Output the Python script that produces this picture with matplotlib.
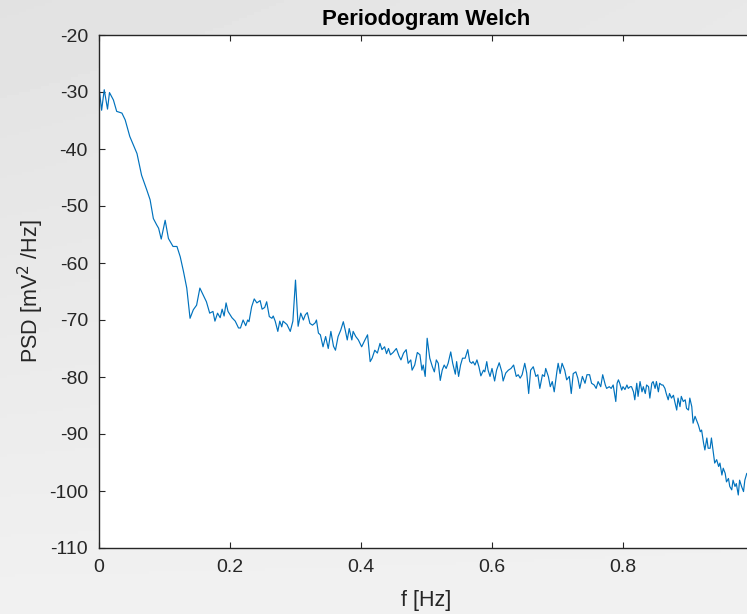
import numpy as np
import matplotlib
matplotlib.use('Agg')
import matplotlib.pyplot as plt

# Welch periodogram, values
freq = [0.000, 0.004, 0.008, 0.013, 0.016, 0.022, 0.027, 0.035, 0.040, 0.047,
        0.058, 0.065, 0.073, 0.078, 0.083, 0.088, 0.091, 0.095, 0.101, 0.106,
        0.113, 0.119, 0.124, 0.129, 0.134, 0.139, 0.144, 0.149, 0.154, 0.159,
        0.164, 0.169, 0.174, 0.177, 0.181, 0.185, 0.188, 0.191, 0.194, 0.197,
        0.203, 0.208, 0.213, 0.216, 0.220, 0.224, 0.227, 0.229, 0.233, 0.237,
        0.241, 0.246, 0.249, 0.253, 0.256, 0.260, 0.264, 0.266, 0.269, 0.273,
        0.276, 0.279, 0.281, 0.287, 0.292, 0.296, 0.300, 0.304, 0.308, 0.312,
        0.315, 0.318, 0.322, 0.326, 0.330, 0.332, 0.335, 0.338, 0.342, 0.346,
        0.350, 0.354, 0.358, 0.361, 0.365, 0.369, 0.373, 0.376, 0.379, 0.382,
        0.386, 0.388, 0.392, 0.396, 0.401, 0.406, 0.410, 0.414, 0.417, 0.421,
        0.425, 0.429, 0.432, 0.436, 0.439, 0.442, 0.445, 0.449, 0.454, 0.458,
        0.461, 0.465, 0.469, 0.472, 0.476, 0.478, 0.482, 0.486, 0.490, 0.493,
        0.495, 0.498, 0.501, 0.505, 0.509, 0.512, 0.515, 0.518, 0.521, 0.524,
        0.527, 0.530, 0.533, 0.537, 0.540, 0.544, 0.546, 0.549, 0.552, 0.555,
        0.559, 0.563, 0.566, 0.569, 0.571, 0.574, 0.577, 0.580, 0.583, 0.587,
        0.589, 0.592, 0.594, 0.597, 0.600, 0.604, 0.607, 0.611, 0.615, 0.617,
        0.621, 0.625, 0.629, 0.633, 0.637, 0.640, 0.643, 0.646, 0.650, 0.653,
        0.656, 0.659, 0.663, 0.667, 0.670, 0.673, 0.677, 0.680, 0.682, 0.686,
        0.689, 0.692, 0.695, 0.699, 0.701, 0.704, 0.707, 0.711, 0.714, 0.718,
        0.721, 0.724, 0.728, 0.731, 0.734, 0.738, 0.742, 0.745, 0.749, 0.752,
        0.756, 0.759, 0.762, 0.766, 0.769, 0.773, 0.775, 0.779, 0.782, 0.785,
        0.789, 0.791, 0.793, 0.795, 0.798, 0.800, 0.803, 0.806, 0.808, 0.811,
        0.813, 0.816, 0.818, 0.821, 0.823, 0.826, 0.829, 0.831, 0.834, 0.836,
        0.839, 0.841, 0.844, 0.846, 0.849, 0.851, 0.854, 0.856, 0.859, 0.861,
        0.864, 0.866, 0.869, 0.871, 0.874, 0.877, 0.879, 0.882, 0.884, 0.887,
        0.889, 0.892, 0.895, 0.897, 0.900, 0.902, 0.905, 0.907, 0.910, 0.913,
        0.915, 0.918, 0.920, 0.923, 0.925, 0.928, 0.930, 0.933, 0.935, 0.938,
        0.940, 0.943, 0.946, 0.948, 0.951, 0.953, 0.956, 0.958, 0.961, 0.963,
        0.966, 0.968, 0.971, 0.973, 0.976, 0.978, 0.981, 0.984, 0.986, 0.989,
        0.994]

psd = [-29.1, -33.2, -29.6, -33.0, -30.1, -31.4, -33.4, -33.7, -34.9, -37.8,
       -40.8, -44.6, -47.2, -48.9, -52.2, -53.3, -53.9, -55.8, -52.5, -55.7,
       -57.1, -57.1, -58.9, -61.5, -64.4, -69.7, -68.2, -67.4, -64.4, -65.6,
       -66.8, -68.8, -68.5, -70.2, -68.8, -69.6, -68.1, -69.3, -67.0, -68.5,
       -69.6, -70.2, -71.4, -71.4, -70.0, -71.0, -70.0, -70.3, -67.7, -66.3,
       -67.0, -66.6, -68.1, -67.8, -66.8, -69.4, -69.7, -69.3, -70.2, -72.0,
       -70.2, -71.2, -70.2, -70.8, -72.0, -70.2, -63.0, -71.1, -68.8, -70.0,
       -69.1, -68.7, -70.6, -70.9, -70.5, -70.0, -72.3, -72.6, -74.7, -72.9,
       -75.0, -72.0, -74.6, -75.3, -72.9, -71.8, -70.3, -71.8, -73.5, -71.5,
       -73.5, -72.0, -72.9, -73.5, -74.7, -73.5, -72.6, -77.3, -76.7, -75.3,
       -75.8, -74.1, -75.2, -74.7, -75.9, -75.0, -76.1, -75.7, -75.0, -76.3,
       -77.0, -75.8, -75.2, -77.6, -77.0, -78.8, -77.9, -75.7, -76.1, -78.8,
       -77.9, -79.9, -73.2, -76.7, -78.2, -79.1, -77.0, -77.6, -80.6, -78.8,
       -77.9, -78.5, -77.6, -75.6, -77.6, -79.5, -77.3, -79.9, -77.9, -76.7,
       -76.7, -75.2, -77.3, -77.6, -77.3, -77.9, -77.0, -78.2, -79.8, -78.8,
       -79.1, -77.3, -78.8, -79.9, -78.5, -80.7, -78.8, -77.5, -79.1, -80.7,
       -79.3, -78.8, -78.5, -77.9, -79.9, -79.6, -80.2, -79.6, -77.6, -79.3,
       -82.9, -78.8, -78.2, -79.9, -79.6, -82.0, -79.6, -79.9, -78.5, -79.9,
       -81.7, -80.8, -82.6, -79.1, -77.6, -79.4, -77.6, -78.8, -80.5, -79.9,
       -82.9, -79.4, -79.1, -80.2, -82.0, -79.9, -81.1, -79.6, -79.6, -81.1,
       -81.4, -82.0, -80.8, -81.7, -79.6, -81.4, -82.0, -81.7, -82.0, -81.4,
       -84.3, -81.1, -80.5, -81.1, -82.3, -81.7, -82.2, -81.4, -82.0, -81.7,
       -81.7, -82.6, -84.0, -81.1, -83.4, -80.8, -82.6, -81.7, -82.9, -81.4,
       -81.7, -83.7, -81.1, -80.8, -82.0, -80.8, -82.6, -81.1, -81.4, -81.4,
       -82.0, -82.9, -84.0, -82.9, -83.7, -83.2, -84.3, -85.8, -83.7, -85.2,
       -83.4, -84.3, -84.0, -85.5, -85.8, -83.7, -85.2, -88.1, -86.9, -87.8,
       -88.4, -89.6, -89.3, -91.6, -92.8, -90.7, -92.5, -92.5, -90.7, -93.4,
       -95.1, -94.5, -95.7, -95.1, -97.2, -96.0, -96.9, -98.4, -97.8, -99.2,
       -99.8, -98.1, -99.2, -98.7, -100.7, -98.1, -99.2, -100.1, -98.1, -96.9,
       -98.0]

x_ticks = [0, 0.2, 0.4, 0.6, 0.8]
x_tick_labels = ['0', '0.2', '0.4', '0.6', '0.8']
y_ticks = [-110, -100, -90, -80, -70, -60, -50, -40, -30, -20]

plt.rcParams['font.family'] = ['Liberation Sans', 'DejaVu Sans']
plt.rcParams['axes.unicode_minus'] = False

fig = plt.figure(figsize=(7.47, 6.14), dpi=100)

# light grey gradient behind everything (matlab style window)
bg = fig.add_axes([0, 0, 1, 1], zorder=-10)
yy, xx = np.mgrid[0:1:200j, 0:1:200j]
grad = 0.885 + 0.06 * yy + 0.025 * xx * (1 - yy)
bg.imshow(grad, cmap='gray', vmin=0, vmax=1, aspect='auto', extent=[0, 1, 0, 1], origin='upper')
bg.axis('off')

# axes runs a bit past the right edge, like the cropped screenshot
ax = fig.add_axes([99 / 747, 66 / 614, 655 / 747, 513 / 614])
ax.set_facecolor('white')
ax.plot(freq, psd, color='#0072BD', linewidth=0.85)

ax.set_xlim(0, 1)
ax.set_ylim(-110, -20)
ax.set_xticks(x_ticks)
ax.set_xticklabels(x_tick_labels)
ax.set_yticks(y_ticks)

ax.tick_params(direction='in', length=4.5, width=0.8, colors='#262626',
               labelsize=14, top=True, right=True, pad=8)
for s in ax.spines.values():
    s.set_color('#262626')
    s.set_linewidth(1.0)

ax.set_title('Periodogram Welch', fontsize=16, fontweight='bold', pad=7)
ax.set_xlabel('f [Hz]', fontsize=15.5, color='#262626', labelpad=10)
ax.set_ylabel('PSD [mV$^2$ /Hz]', fontsize=15.5, color='#262626', labelpad=2)

fig.savefig('out.png', dpi=100)
